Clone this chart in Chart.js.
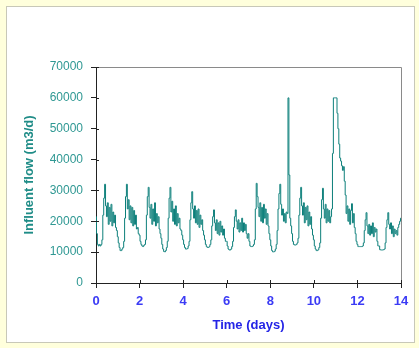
<!DOCTYPE html>
<html>
<head>
<meta charset="utf-8">
<script src="https://cdn.jsdelivr.net/npm/chart.js@4"></script>
<style>
  html, body { margin:0; padding:0; background:#ffffdc; width:419px; height:348px; overflow:hidden; }
  #panel { position:absolute; left:6px; top:6px; width:407px; height:335px; background:#ffffff; border:1px solid #c8c8b8; }
  #c { position:absolute; left:0; top:0; }
</style>
</head>
<body>
<div id="panel"></div>
<canvas id="c" width="419" height="348"></canvas>
<script>
// Hourly influent flow (m3/d), one array per day
const day0  = [21500,16000,12500,12000,12500,12000,12500,14000,22000,27500,32000,25000,21500,26000,19000,24500,20000,25500,18500,23000,19500,22000,18000,17000];
const day1  = [15000,13000,11500,10500,10500,11000,11500,13500,21000,28000,32000,24000,27000,20500,25000,19500,24500,18500,23500,19000,22000,17500,18000,16000];
const day2  = [15500,13500,12500,12000,11800,12200,12500,14000,22000,28000,31000,24500,21000,25500,19000,24000,20000,26000,18500,22500,19500,21500,17500,16000];
const day3  = [14500,12500,11000,10200,10100,10500,11500,13500,21000,27500,31000,23000,26500,20000,24000,19000,25000,18500,22500,19500,21000,17500,17000,15500];
const day4  = [14000,12500,11500,11000,11000,11200,12000,13500,20500,26000,29600,24000,21000,25000,19500,23500,19000,24000,18000,22000,19000,20500,17000,15500];
const day5  = [14000,12500,11800,11500,11500,11800,12500,14000,18500,21500,23700,19500,17000,20500,16000,19500,15500,20000,16500,18500,15500,17500,14500,13500];
const day6  = [13500,12000,11000,10700,10700,11000,11800,13500,18000,21500,23700,20000,17500,20500,16500,19500,17000,21000,16500,19500,17000,19000,16000,14500];
const day7  = [16000,13500,12000,11800,11800,12000,12500,14000,24000,32300,28000,24500,21500,26000,20000,24500,19500,25500,21000,24000,19000,22500,18500,16000];
const day8  = [14000,12000,10500,10100,10100,10300,11000,12500,17000,24000,29000,32000,25500,22000,24000,20000,22500,19500,23000,22500,60000,35000,21000,18500];
const day9  = [16000,13500,12500,12300,12300,12500,13000,14500,22000,27500,31000,25000,22000,26000,19500,24500,20500,25000,18500,23000,19000,21500,17500,15500];
const day10 = [14000,12000,11000,10500,10500,10800,11500,13000,21000,27000,30700,24000,21000,25500,19500,24000,20000,23500,19500,21500,24000,42000,60000,60000];
const day11 = [60000,60000,55000,50000,45000,40500,39500,38000,36500,37700,33000,28500,22500,25000,20000,24000,19000,23500,25700,19500,22500,18000,16000,13500];
const day12 = [12500,11800,11800,11800,11800,11800,12000,13000,17000,20500,22800,18500,16000,19000,15500,18500,16000,19500,15000,18000,16500,17500,13500,12000];
const day13 = [12000,10800,10700,10700,10700,10800,11000,13000,18000,20500,22800,19000,17500,19500,16000,18500,15000,17500,16000,17000,15500,18000,19000,20000];
const endValue = [21000];
const samplesPerDay = 24;
const xTicks = [0,2,4,6,8,10,12,14];
const yTicks = [0,10000,20000,30000,40000,50000,60000,70000];

const flow = [].concat(day0,day1,day2,day3,day4,day5,day6,day7,day8,day9,day10,day11,day12,day13,endValue);
const points = flow.map((v,i) => ({x: i / samplesPerDay, y: v}));

const frame = {
  id: 'frame',
  afterDraw(chart) {
    const {ctx, chartArea: a, scales} = chart;
    ctx.save();
    ctx.strokeStyle = '#8a8a8a';
    ctx.lineWidth = 1;
    ctx.beginPath();
    ctx.moveTo(a.left, a.top + 0.5); ctx.lineTo(a.right + 0.5, a.top + 0.5);
    ctx.lineTo(a.right + 0.5, a.bottom);
    ctx.stroke();
    ctx.strokeStyle = '#222';
    ctx.beginPath();
    yTicks.forEach(v => { const y = Math.round(scales.y.getPixelForValue(v)) + 0.5; ctx.moveTo(a.left, y); ctx.lineTo(a.left + 3, y); });
    xTicks.forEach(v => { const x = Math.round(scales.x.getPixelForValue(v)) + 0.5; ctx.moveTo(x, a.bottom); ctx.lineTo(x, a.bottom - 3); });
    ctx.stroke();
    ctx.restore();
  }
};

new Chart(document.getElementById('c'), {
  type: 'line',
  data: { datasets: [{ data: points, borderColor: '#0c7f7a', borderWidth: 1, pointRadius: 0, fill: false, stepped: 'middle' }] },
  options: {
    responsive: false, animation: false, devicePixelRatio: 1,
    layout: { padding: { left: 0, top: 67, right: 18, bottom: 0 } },
    plugins: { legend: { display: false }, tooltip: { enabled: false } },
    scales: {
      x: {
        type: 'linear', min: 0, max: 14,
        afterFit(s) { s.height = 65; },
        afterBuildTicks(s) { s.ticks = xTicks.map(v => ({value: v})); },
        ticks: { color: '#3b3bf5', font: { family: 'Arial, "Liberation Sans"', size: 13, weight: 'bold' }, padding: 6, maxRotation: 0 },
        grid: { drawOnChartArea: false, drawTicks: true, tickLength: 5, color: '#222' },
        border: { color: '#222', width: 1 },
        title: { display: true, text: 'Time (days)', color: '#2424e6', font: { family: 'Arial, "Liberation Sans"', size: 13, weight: 'bold' }, padding: { top: 0, bottom: 15 } }
      },
      y: {
        min: 0, max: 70000,
        afterFit(s) { s.width = 96; },
        afterBuildTicks(s) { s.ticks = yTicks.map(v => ({value: v})); },
        ticks: { color: '#2f9893', font: { family: 'Arial, "Liberation Sans"', size: 12 }, padding: 8, callback: v => String(v) },
        grid: { drawOnChartArea: false, drawTicks: true, tickLength: 5, color: '#222' },
        border: { color: '#222', width: 1 },
        title: { display: true, text: 'Influent flow (m3/d)', color: '#1f8c87', font: { family: 'Arial, "Liberation Sans"', size: 13, weight: 'bold' }, padding: { top: 22, bottom: 0 } }
      }
    }
  },
  plugins: [frame]
});
</script>
</body>
</html>
